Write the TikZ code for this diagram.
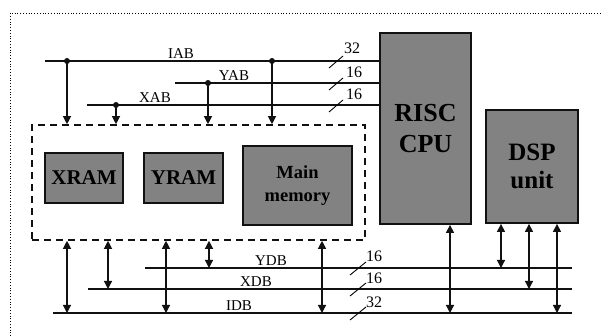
\documentclass[tikz,border=0pt]{standalone}
\usepackage{fontspec}
\setmainfont{Liberation Serif}
\usepackage{tikz}
\usetikzlibrary{arrows.meta,calc,positioning}
\definecolor{BlockGray}{HTML}{828282}
\definecolor{Ink}{HTML}{111111}

\begin{document}
\begin{tikzpicture}[x=1pt,y=-1pt,
  block/.style={draw=Ink,line width=1.8pt,fill=BlockGray,inner sep=0pt,align=center,font=\bfseries},
  group/.style={draw=Ink,line width=1.6pt,dash pattern=on 7pt off 5pt,inner sep=0pt},
  bus/.style={line width=2.8pt,draw=Ink},
  tap/.style={-{Triangle[length=8pt,width=8pt]},line width=1.2pt,draw=Ink},
  link/.style={{Triangle[length=8pt,width=8pt]}-{Triangle[length=8pt,width=8pt]},line width=1.2pt,draw=Ink},
  dot/.style={circle,fill=Ink,inner sep=0pt,minimum size=6pt},
  buslabel/.style={font=\fontsize{15}{15}\selectfont,inner sep=0pt,anchor=base},
  bits/.style={font=\fontsize{16}{16}\selectfont,inner sep=0pt,anchor=base west}
]
\useasboundingbox (0,0) rectangle (602,336);
\draw[dotted,line width=0.8pt] (10,336) -- (10,13) -- (602,13);

% blocks
\node[group,minimum width=333,minimum height=115] (mem) at (198.5,182.5) {};
\node[block,minimum width=78,minimum height=50,font=\bfseries\fontsize{21}{22}\selectfont] (xram) at (84,178) {XRAM};
\node[block,minimum width=79,minimum height=50,font=\bfseries\fontsize{21}{22}\selectfont] (yram) at (183.5,178) {YRAM};
\node[block,minimum width=109,minimum height=79,font=\bfseries\fontsize{18.5}{23}\selectfont] (main) at (297.5,185.5) {Main\\memory};
\node[block,minimum width=91,minimum height=191,font=\bfseries\fontsize{26}{31}\selectfont] (cpu) at (425.5,128.5) {RISC\\CPU};
\node[block,minimum width=92,minimum height=113,font=\bfseries\fontsize{25}{28}\selectfont] (dsp) at (532,166.5) {DSP\\unit};

% address buses
\coordinate (iab) at (45,61);
\coordinate (yab) at (175,83);
\coordinate (xab) at (87,105);
\draw[bus] (iab) -- (iab -| cpu.west);
\draw[bus] (yab) -- (yab -| cpu.west);
\draw[bus] (xab) -- (xab -| cpu.west);
\node[buslabel] at (181,59) {IAB};
\node[buslabel] at (234,81) {YAB};
\node[buslabel] at (155,103) {XAB};

% data buses
\coordinate (ydb) at (145,268);
\coordinate (xdb) at (88,289);
\coordinate (idb) at (53,313);
\coordinate (bus-end) at (572,0);
\draw[bus] (ydb) -- (ydb -| bus-end);
\draw[bus] (xdb) -- (xdb -| bus-end);
\draw[bus] (idb) -- (idb -| bus-end);
\node[buslabel] at (271,266) {YDB};
\node[buslabel] at (256,287) {XDB};
\node[buslabel] at (239,311) {IDB};

% bus widths
\draw[line width=0.9pt] (329,68) -- (343,56);
\draw[line width=0.9pt] (329,90) -- (343,78);
\draw[line width=0.9pt] (329,112) -- (343,100);
\node[bits] at (344,54) {32};
\node[bits] at (346,78) {16};
\node[bits] at (346,100) {16};
\draw[line width=0.9pt] (350,275) -- (366,262);
\draw[line width=0.9pt] (350,296) -- (366,283);
\draw[line width=0.9pt] (350,320) -- (366,307);
\node[bits] at (366,262) {16};
\node[bits] at (366,284) {16};
\node[bits] at (366,308) {32};

% address taps
\node[dot] (tap-i1) at (67,61) {};
\node[dot] (tap-i2) at (272,61) {};
\node[dot] (tap-y) at (208,83) {};
\node[dot] (tap-x) at (116,105) {};
\draw[tap] (tap-i1.center) -- (tap-i1 |- mem.north);
\draw[tap] (tap-x.center) -- (tap-x |- mem.north);
\draw[tap] (tap-y.center) -- (tap-y |- mem.north);
\draw[tap] (tap-i2.center) -- (tap-i2 |- mem.north);

% data links
\coordinate (d1) at (67,313);
\coordinate (d2) at (108,289);
\coordinate (d3) at (166,313);
\coordinate (d4) at (209,268);
\coordinate (d5) at (322,313);
\coordinate (d6) at (450,313);
\coordinate (d7) at (501,268);
\coordinate (d8) at (529,289);
\coordinate (d9) at (557,313);
\draw[link] (mem.south -| d1) -- (d1);
\draw[link] (mem.south -| d2) -- (d2);
\draw[link] (mem.south -| d3) -- (d3);
\draw[link] (mem.south -| d4) -- (d4);
\draw[link] (mem.south -| d5) -- (d5);
\draw[link] (cpu.south -| d6) -- (d6);
\draw[link] (dsp.south -| d7) -- (d7);
\draw[link] (dsp.south -| d8) -- (d8);
\draw[link] (dsp.south -| d9) -- (d9);
\end{tikzpicture}
\end{document}
